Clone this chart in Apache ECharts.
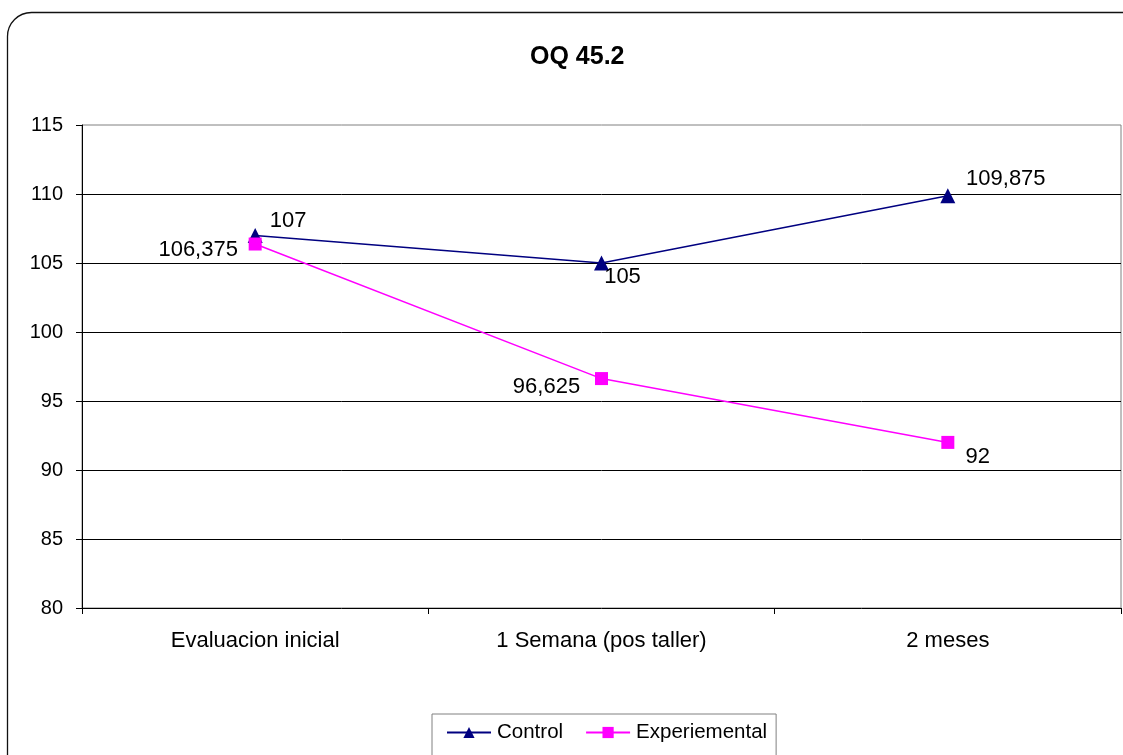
<!DOCTYPE html>
<html>
<head>
<meta charset="utf-8">
<script src="https://cdn.jsdelivr.net/npm/echarts@6/dist/echarts.min.js"></script>
<style>
  html, body { margin: 0; padding: 0; background: #fff; }
  #chart { width: 1123px; height: 755px; }
</style>
</head>
<body>
<div id="chart"></div>
<script>
// OQ 45.2 scores per evaluation moment
const chartTitle = 'OQ 45.2';
const categories = ['Evaluacion inicial', '1 Semana (pos taller)', '2 meses'];
const controlValues = [107, 105, 109.875];
const experimentalValues = [106.375, 96.625, 92];
const yTicks = { min: 80, max: 115, interval: 5 };

// label placement around each marker (text centre relative to the marker)
const controlLabelOffsets = [[33, -14], [21, 14], [58, -17]];
const experimentalLabelOffsets = [[-57, 6], [-55, 8], [30, 15]];

const FONT = '"Liberation Sans", Arial, sans-serif';
const fmt = v => String(v).replace('.', ',');

function withLabels(values, offsets) {
  return values.map((v, i) => ({
    value: v,
    label: { offset: offsets[i] }
  }));
}

const chart = echarts.init(document.getElementById('chart'), null, { renderer: 'canvas' });

chart.setOption({
  animation: false,
  backgroundColor: '#fff',
  title: {
    text: chartTitle,
    left: 525,
    top: 40,
    textStyle: { fontFamily: FONT, fontSize: 25, fontWeight: 'bold', color: '#000' }
  },
  graphic: [{
    type: 'rect',
    shape: { x: 7.5, y: 12.5, width: 1150, height: 800, r: 24 },
    style: { fill: null, stroke: '#111', lineWidth: 1.3 },
    silent: true,
    z: 100
  }],
  grid: {
    left: 82, right: 2, top: 125, bottom: 147,
    show: true,
    borderColor: '#808080',
    borderWidth: 1,
    backgroundColor: 'transparent'
  },
  legend: {
    bottom: -6,
    left: 432,
    padding: [8, 9, 18, 14],
    borderColor: '#808080',
    borderWidth: 1,
    itemWidth: 44,
    itemHeight: 14,
    itemGap: 22,
    textStyle: { fontFamily: FONT, fontSize: 20.5, color: '#000', padding: [0, 0, 0, 1] },
    data: ['Control', 'Experiemental']
  },
  xAxis: {
    type: 'category',
    data: categories,
    boundaryGap: true,
    axisLine: { lineStyle: { color: '#000', width: 1 } },
    axisTick: { show: true, length: 6, inside: false, lineStyle: { color: '#000' } },
    axisLabel: { fontFamily: FONT, fontSize: 22, color: '#000', margin: 22 },
    splitLine: { show: false }
  },
  yAxis: {
    type: 'value',
    min: yTicks.min,
    max: yTicks.max,
    interval: yTicks.interval,
    axisLine: { show: true, lineStyle: { color: '#000', width: 1 } },
    axisTick: { show: true, length: 6, lineStyle: { color: '#000' } },
    axisLabel: { fontFamily: FONT, fontSize: 20, color: '#000', margin: 19 },
    splitLine: { show: true, showMaxLine: false, showMinLine: false, lineStyle: { color: '#000', width: 1 } }
  },
  series: [
    {
      name: 'Control',
      type: 'line',
      data: withLabels(controlValues, controlLabelOffsets),
      symbol: 'triangle',
      symbolSize: 15,
      color: '#000080',
      lineStyle: { color: '#000080', width: 1.5 },
      itemStyle: { color: '#000080' },
      label: {
        show: true,
        position: 'inside',
        formatter: p => fmt(p.value),
        fontFamily: FONT, fontSize: 22, color: '#000'
      },
      z: 3
    },
    {
      name: 'Experiemental',
      type: 'line',
      data: withLabels(experimentalValues, experimentalLabelOffsets),
      symbol: 'rect',
      symbolSize: 13,
      color: '#FF00FF',
      lineStyle: { color: '#FF00FF', width: 1.5 },
      itemStyle: { color: '#FF00FF' },
      label: {
        show: true,
        position: 'inside',
        formatter: p => fmt(p.value),
        fontFamily: FONT, fontSize: 22, color: '#000'
      },
      z: 4
    }
  ]
});
</script>
</body>
</html>
